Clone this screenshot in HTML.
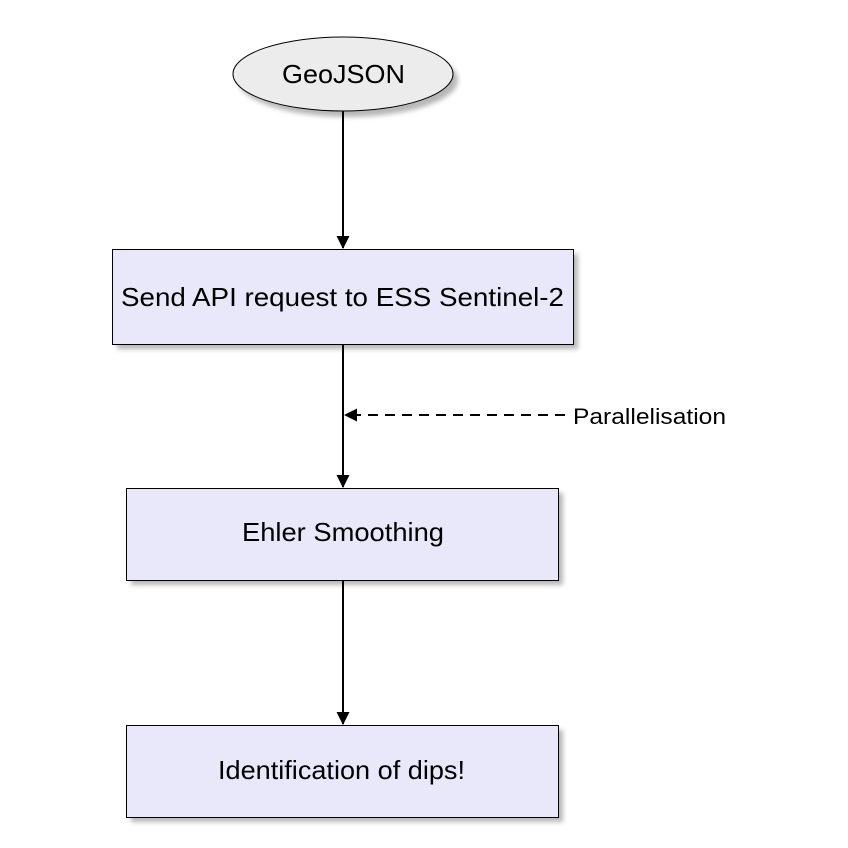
<!DOCTYPE html>
<html><head><meta charset="utf-8"><style>html,body{margin:0;padding:0;background:#fff}svg{display:block}</style></head>
<body>
<svg width="848" height="848" viewBox="0 0 848 848" xmlns="http://www.w3.org/2000/svg" font-family="Liberation Sans, sans-serif">
<defs>
<filter id="sh" x="-10%" y="-10%" width="130%" height="140%"><feGaussianBlur stdDeviation="2.5"/></filter>
<marker id="ar" markerWidth="13" markerHeight="14" refX="12" refY="7" orient="auto" markerUnits="userSpaceOnUse"><path d="M0,0.5 L13,7 L0,13.5 z" fill="#000"/></marker>
</defs>
<g fill="#999" opacity="0.7" filter="url(#sh)">
<ellipse cx="348" cy="80" rx="110" ry="37"/>
<rect x="117" y="254" width="461" height="95"/>
<rect x="131" y="493" width="432" height="92"/>
<rect x="131" y="730" width="432" height="92"/>
</g>
<ellipse cx="343" cy="74" rx="110" ry="37" fill="#ececec" stroke="#000" stroke-width="1"/>
<rect x="112.5" y="249.5" width="461" height="95" fill="#e8e8fa" stroke="#000" stroke-width="1"/>
<rect x="126.5" y="488.5" width="432" height="92" fill="#e8e8fa" stroke="#000" stroke-width="1"/>
<rect x="126.5" y="725.5" width="432" height="92" fill="#e8e8fa" stroke="#000" stroke-width="1"/>
<g stroke="#000" stroke-width="2" fill="none">
<line x1="343" y1="111" x2="343" y2="248" marker-end="url(#ar)"/>
<line x1="343" y1="345" x2="343" y2="487" marker-end="url(#ar)"/>
<line x1="343" y1="581" x2="343" y2="724" marker-end="url(#ar)"/>
<line x1="565" y1="415" x2="345" y2="415" stroke-dasharray="10,7" marker-end="url(#ar)"/>
</g>
<g font-size="26" fill="#000">
<text x="282" y="83" textLength="123" lengthAdjust="spacingAndGlyphs">GeoJSON</text>
<text x="121" y="306" textLength="443" lengthAdjust="spacingAndGlyphs">Send API request to ESS Sentinel-2</text>
<text x="242" y="541" textLength="202" lengthAdjust="spacingAndGlyphs">Ehler Smoothing</text>
<text x="218" y="779" textLength="247" lengthAdjust="spacingAndGlyphs">Identification of dips!</text>
<text x="573" y="424" font-size="22" textLength="153" lengthAdjust="spacingAndGlyphs">Parallelisation</text>
</g>
</svg>
</body></html>
